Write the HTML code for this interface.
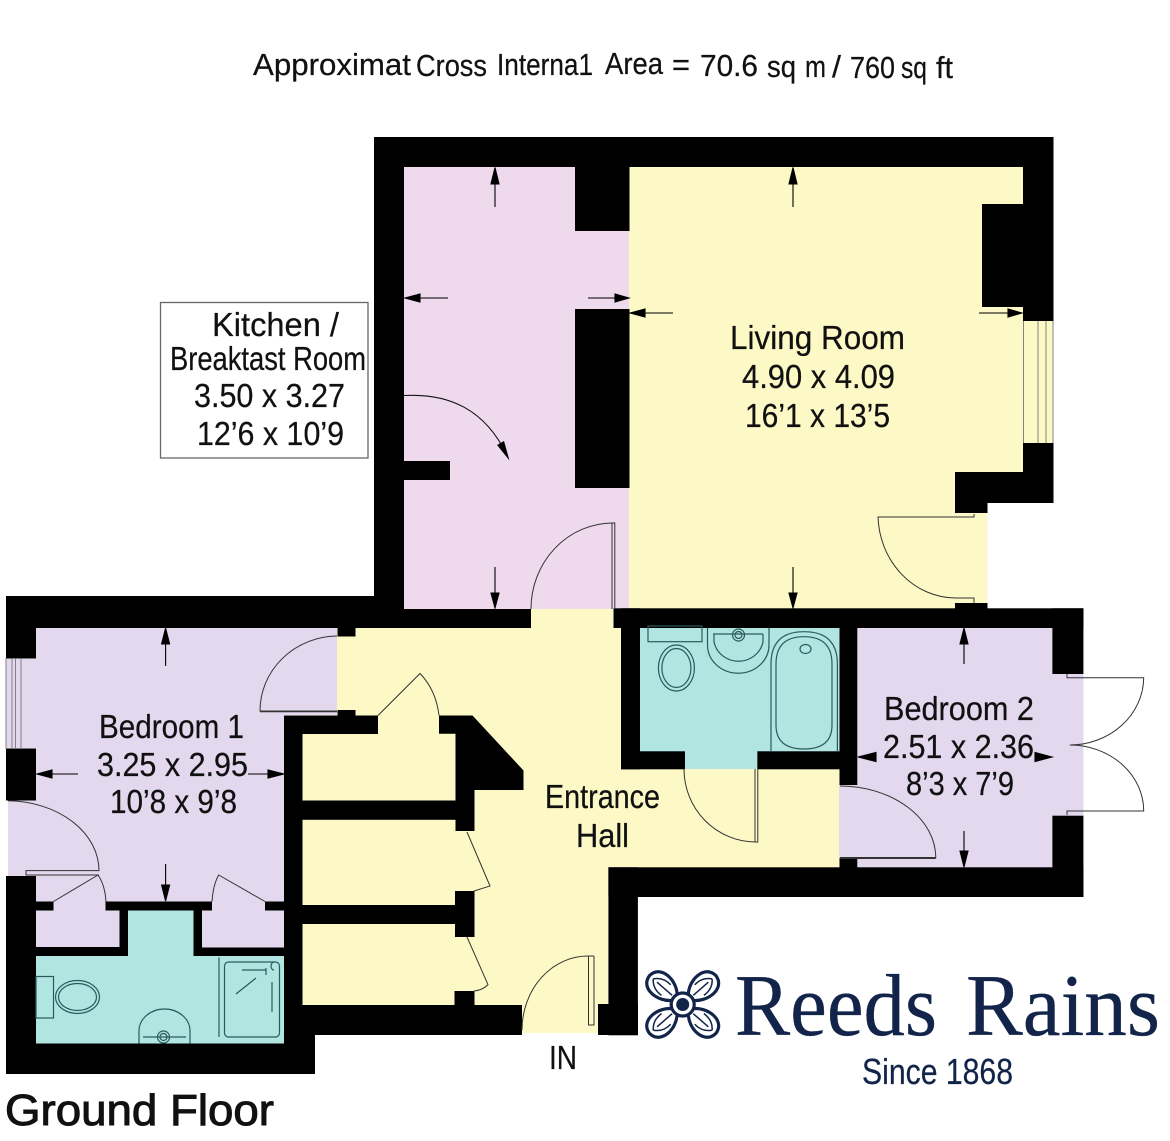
<!DOCTYPE html>
<html><head><meta charset="utf-8"><style>
html,body{margin:0;padding:0;background:#fff}
svg{display:block}
text{font-family:"Liberation Sans",sans-serif;fill:#111;stroke:#111;stroke-width:.25}
.d{fill:none;stroke:#333;stroke-width:1}
.f{fill:none;stroke:#2c5a5c;stroke-width:1.2}
.a{stroke:#000;stroke-width:1.1}
</style></head><body>
<svg width="1170" height="1141" viewBox="0 0 1170 1141" xmlns="http://www.w3.org/2000/svg">
<rect width="1170" height="1141" fill="#fff"/>
<!-- fills -->
<g fill="#eed9ed"><rect x="404" y="167" width="226" height="442"/></g>
<g fill="#fdf9c6">
<rect x="629" y="167" width="394" height="336"/>
<rect x="629" y="500" width="358.500" height="109"/>
<rect x="1023" y="321" width="30" height="122"/>
<rect x="531" y="609" width="82" height="26"/>
<rect x="337" y="628" width="284" height="100"/>
<rect x="302" y="715" width="306" height="318"/>
<rect x="600" y="760" width="240" height="108"/>
<rect x="600" y="628" width="21" height="140"/>
</g>
<g fill="#e3d8ee">
<rect x="36" y="628" width="248" height="274"/>
<rect x="284" y="628" width="53" height="87"/>
<rect x="36" y="900" width="84" height="48"/>
<rect x="202" y="900" width="82" height="48"/>
<rect x="8" y="800" width="29" height="76"/>
<rect x="6" y="658" width="30" height="91"/>
<rect x="857" y="628" width="196" height="240"/>
<rect x="1052" y="674" width="31.500" height="142"/>
<rect x="839" y="785" width="19" height="73"/>
</g>
<g fill="#b0e5e2">
<rect x="640" y="628" width="200" height="124"/>
<rect x="685" y="750" width="72" height="19"/>
<rect x="36" y="955" width="248" height="89"/>
<rect x="128" y="909" width="66" height="48"/>
</g>
<!-- walls -->
<g fill="#000">
<rect x="374" y="137" width="679.500" height="30"/>
<rect x="374" y="137" width="30" height="491"/>
<rect x="1023" y="137" width="30.500" height="184"/>
<rect x="575" y="167" width="54.500" height="64"/>
<rect x="575" y="309" width="54.500" height="179"/>
<rect x="404" y="461" width="46" height="19"/>
<rect x="982" y="204" width="41" height="103"/>
<polygon points="1023,443 1053.500,443 1053.500,503 987.500,503 987.500,513 955,513 955,472 1023,472"/>
<rect x="955" y="603" width="32.500" height="8"/>
<rect x="6" y="596" width="370" height="32"/>
<rect x="374" y="609" width="157" height="19"/>
<rect x="6" y="596" width="30" height="62"/>
<rect x="6" y="749" width="30" height="51.500"/>
<rect x="6" y="876" width="30" height="198"/>
<rect x="6" y="1043.500" width="309" height="30.500"/>
<rect x="337.500" y="628" width="18" height="8.500"/>
<rect x="337.500" y="710" width="18" height="6"/>
<rect x="284" y="715.500" width="94" height="18.500"/>
<rect x="284" y="715.500" width="18.500" height="325"/>
<rect x="284" y="1005" width="31" height="69"/>
<rect x="302" y="1005" width="220" height="30"/>
<polygon points="439,715.500 472.500,715.500 523.500,770.500 523.500,790 474.500,790 474.500,831 455.500,831 455.500,733.800 439,733.800"/>
<rect x="302" y="800.500" width="154" height="19.300"/>
<rect x="302" y="905" width="154" height="19"/>
<rect x="455" y="891" width="19.500" height="46"/>
<rect x="454.500" y="991" width="20" height="16"/>
<rect x="36" y="901.500" width="17.500" height="9"/>
<rect x="105.500" y="901.500" width="106.500" height="9"/>
<rect x="265" y="901.500" width="19.500" height="9"/>
<rect x="119.500" y="905" width="8.500" height="51"/>
<rect x="193.500" y="905" width="8.500" height="51"/>
<rect x="36" y="947" width="92" height="9"/>
<rect x="193.500" y="947.500" width="91" height="8.500"/>
<rect x="613.500" y="608.300" width="470" height="19.700"/>
<rect x="621" y="608.300" width="19" height="161"/>
<rect x="621" y="751.300" width="64" height="18"/>
<rect x="757.300" y="751.300" width="82.500" height="18"/>
<rect x="839.500" y="620" width="17.800" height="165"/>
<rect x="839.500" y="858" width="17.800" height="12"/>
<rect x="1052.400" y="608.300" width="31" height="65.700"/>
<rect x="1052.400" y="815.700" width="31" height="81.300"/>
<rect x="608.400" y="867.300" width="475" height="29.700"/>
<rect x="608.400" y="867.300" width="29.500" height="168"/>
<rect x="598" y="1004" width="40" height="31"/>
</g>
<!-- windows -->
<g stroke="#777" stroke-width="0.900" fill="none">
<path d="M6 658V749M12 658V749M15.500 658V749M21 658V749M6 658.500H36M6 748.500H36"/>
<path d="M1023.500 321V443M1038 321V443M1046 321V443M1053 321V443"/>
</g>
<!-- doors -->
<g class="d">
<path d="M612 609V523H614.800V609"/><path d="M612 523A82 86 0 0 0 531 609"/>
<path d="M878 517H974V514M878 516.500A78 84 0 0 0 955 598H974V603"/>
<path d="M337 636A78 75 0 0 0 260 711H337M260 711.800H337"/>
<path d="M378 715.500L420 673.500Q436 690 439 715.500"/>
<path d="M467 832L490 886L474 891"/>
<path d="M467 937L488 984.600Q483 990 474 991"/>
<path d="M8 800.800A92 70 0 0 1 99 870.600H26V875H99"/>
<path d="M53.500 901.500L98 875Q105 885 106 901.500"/>
<path d="M212 901.500Q213 885 218.700 875L265 901.500"/>
<path d="M684 769A72 73 0 0 0 755 842V769M757.800 769V842H755"/>
<path d="M840 786A96 72 0 0 1 935.800 857.500H840M840 858.500H935.800"/>
<path d="M1067 674V677.700H1143.700A74 68 0 0 1 1069.800 745A74 66 0 0 1 1143.700 811H1067V815"/>
<path d="M594 956V1025H588.500V956H594M588.500 956A66 74 0 0 0 522 1030"/>
</g>
<path d="M404 395.500C450 393 485 410 507 455" fill="none" stroke="#111" stroke-width="1.100"/>
<polygon points="509.500,460.500 497,445 504,441" fill="#000"/>
<!-- fixtures -->
<g class="f">
<rect x="36" y="976.500" width="17.500" height="41.500"/>
<ellipse cx="77.500" cy="997" rx="22" ry="16.500"/><ellipse cx="77.500" cy="997" rx="19" ry="13.500"/>
<path d="M139 1043.500V1031A25.500 22 0 0 1 190 1031V1043.500M143 1037H186"/>
<circle cx="163.500" cy="1037" r="6"/><circle cx="163.500" cy="1037" r="3.500"/>
<path d="M219 957.500V1037"/>
<rect x="224.500" y="962" width="55" height="75" rx="4"/>
<path d="M242 970H266M236 994L256 978M272 982V1012M274 962A3 4 0 0 0 274 970M266 968V975"/>
<rect x="648" y="626" width="54" height="15.700"/>
<ellipse cx="676.400" cy="668" rx="18" ry="23"/><ellipse cx="676.400" cy="668" rx="14.500" ry="19.500"/>
<path d="M707.500 628V645A30.500 28 0 0 0 769 645V628"/>
<path d="M714 634V642A25 24 0 0 0 763 642V634M713 634H763"/>
<circle cx="738.500" cy="635" r="6"/><circle cx="738.500" cy="635" r="3.500"/>
<path d="M771 751V664Q771 631.700 804 631.700Q837.400 631.700 837.400 664V751"/>
<path d="M776 664Q776 636.700 804 636.700Q832 636.700 832 664V725Q832 749 804 749Q776 749 776 725Z"/>
<ellipse cx="805.500" cy="649" rx="5.500" ry="4.500"/>
</g>
<!-- arrows -->
<g class="a" fill="#000">
<path d="M495 184V207"/><polygon points="495,167.500 491,184 499,184"/>
<path d="M420 298H448"/><polygon points="405,298 420,294 420,302"/>
<path d="M588 298H615"/><polygon points="629,298 615,294 615,302"/>
<path d="M495 567V594"/><polygon points="495,608 491,593 499,593"/>
<path d="M793 184V207"/><polygon points="793,167.500 789,184 797,184"/>
<path d="M645 313H673"/><polygon points="630,313 645,309 645,317"/>
<path d="M979 313H1008"/><polygon points="1022,313 1008,309 1008,317"/>
<path d="M793 567V594"/><polygon points="793,608 789,593 797,593"/>
<path d="M165.600 644V666"/><polygon points="165.600,628 161.600,644 169.600,644"/>
<path d="M50 774H78"/><polygon points="37,774 52,770 52,778"/>
<path d="M248 774H270"/><polygon points="284,774 268,770 268,778"/>
<path d="M165.600 864V886"/><polygon points="165.600,901 161.600,885 169.600,885"/>
<path d="M964 644V664"/><polygon points="964,628 960,644 968,644"/>
<polygon points="858,757 876,752.500 876,761.500"/>
<polygon points="1052,757 1035,752.500 1035,761.500"/>
<path d="M964 831V852"/><polygon points="964,867 960,851 968,851"/>
</g>
<!-- kitchen label -->
<rect x="160.500" y="302.500" width="207.500" height="155.500" fill="#fff" stroke="#666" stroke-width="1.300"/>
<!-- labels -->
<g font-size="33">
<text x="212" y="336" textLength="127" lengthAdjust="spacingAndGlyphs">Kitchen /</text>
<text x="170" y="370" textLength="196" lengthAdjust="spacingAndGlyphs">Breaktast Room</text>
<text x="194" y="407" textLength="151" lengthAdjust="spacingAndGlyphs">3.50 x 3.27</text>
<text x="197" y="445" textLength="147" lengthAdjust="spacingAndGlyphs">12’6 x 10’9</text>
<text x="730" y="349" textLength="175" lengthAdjust="spacingAndGlyphs">Living Room</text>
<text x="742" y="388" textLength="153" lengthAdjust="spacingAndGlyphs">4.90 x 4.09</text>
<text x="745" y="427" textLength="145" lengthAdjust="spacingAndGlyphs">16’1 x 13’5</text>
<text x="99" y="738" textLength="145" lengthAdjust="spacingAndGlyphs">Bedroom 1</text>
<text x="97" y="776" textLength="151" lengthAdjust="spacingAndGlyphs">3.25 x 2.95</text>
<text x="110" y="813" textLength="127" lengthAdjust="spacingAndGlyphs">10’8 x 9’8</text>
<text x="884" y="720" textLength="150" lengthAdjust="spacingAndGlyphs">Bedroom 2</text>
<text x="883" y="758" textLength="151" lengthAdjust="spacingAndGlyphs">2.51 x 2.36</text>
<text x="906" y="795" textLength="108" lengthAdjust="spacingAndGlyphs">8’3 x 7’9</text>
<text x="545" y="808" textLength="115" lengthAdjust="spacingAndGlyphs">Entrance</text>
<text x="576" y="847" textLength="53" lengthAdjust="spacingAndGlyphs">Hall</text>
<text x="549" y="1069" textLength="28" lengthAdjust="spacingAndGlyphs">IN</text>
</g>
<text x="5" y="1125" font-size="44" style="stroke-width:1" textLength="269" lengthAdjust="spacingAndGlyphs">Ground Floor</text>
<!-- title -->
<g font-size="31">
<text x="253" y="75" textLength="158" lengthAdjust="spacingAndGlyphs">Approximat</text>
<text x="416" y="76" textLength="71" lengthAdjust="spacingAndGlyphs">Cross</text>
<text x="497" y="75" textLength="96" lengthAdjust="spacingAndGlyphs">Interna1</text>
<text x="605" y="74" textLength="58" lengthAdjust="spacingAndGlyphs">Area</text>
<text x="672" y="75" textLength="18" lengthAdjust="spacingAndGlyphs">=</text>
<text x="700" y="76" textLength="58" lengthAdjust="spacingAndGlyphs">70.6</text>
<text x="767" y="77" textLength="29" lengthAdjust="spacingAndGlyphs">sq</text>
<text x="805" y="77" textLength="21" lengthAdjust="spacingAndGlyphs">m</text>
<text x="832" y="77" textLength="9" lengthAdjust="spacingAndGlyphs">/</text>
<text x="850" y="78" textLength="45" lengthAdjust="spacingAndGlyphs">760</text>
<text x="901" y="78" textLength="26" lengthAdjust="spacingAndGlyphs">sq</text>
<text x="936" y="78" textLength="17" lengthAdjust="spacingAndGlyphs">ft</text>
</g>
<!-- logo -->
<g transform="translate(682.700 1004.500)" fill="#fff" stroke="#12244a" stroke-width="3.200">
<g transform="rotate(-49)"><path d="M-3 -10C-15 -20 -16 -43 0 -44C16 -43 15 -20 3 -10Z"/><path d="M-7 -22Q-8 -33 0 -39M7 -22Q8 -33 0 -39M0 -14V-34" stroke-width="1.500" fill="none"/></g>
<g transform="rotate(49)"><path d="M-3 -10C-15 -20 -16 -43 0 -44C16 -43 15 -20 3 -10Z"/><path d="M-7 -22Q-8 -33 0 -39M7 -22Q8 -33 0 -39M0 -14V-34" stroke-width="1.500" fill="none"/></g>
<g transform="rotate(131)"><path d="M-3 -10C-15 -20 -16 -43 0 -44C16 -43 15 -20 3 -10Z"/><path d="M-7 -22Q-8 -33 0 -39M7 -22Q8 -33 0 -39M0 -14V-34" stroke-width="1.500" fill="none"/></g>
<g transform="rotate(-131)"><path d="M-3 -10C-15 -20 -16 -43 0 -44C16 -43 15 -20 3 -10Z"/><path d="M-7 -22Q-8 -33 0 -39M7 -22Q8 -33 0 -39M0 -14V-34" stroke-width="1.500" fill="none"/></g>
<circle r="11.500"/><circle r="6.500" fill="#12244a" stroke="none"/>
</g>
<text x="735" y="1035" font-size="88" style="font-family:'Liberation Serif',serif;fill:#12244a;stroke:#12244a;stroke-width:.3" textLength="202" lengthAdjust="spacingAndGlyphs">Reeds</text>
<text x="966" y="1035" font-size="88" style="font-family:'Liberation Serif',serif;fill:#12244a;stroke:#12244a;stroke-width:.3" textLength="194" lengthAdjust="spacingAndGlyphs">Rains</text>
<text x="862" y="1084" font-size="36" style="fill:#12244a;stroke:#12244a" textLength="151" lengthAdjust="spacingAndGlyphs">Since 1868</text>
</svg>
</body></html>
